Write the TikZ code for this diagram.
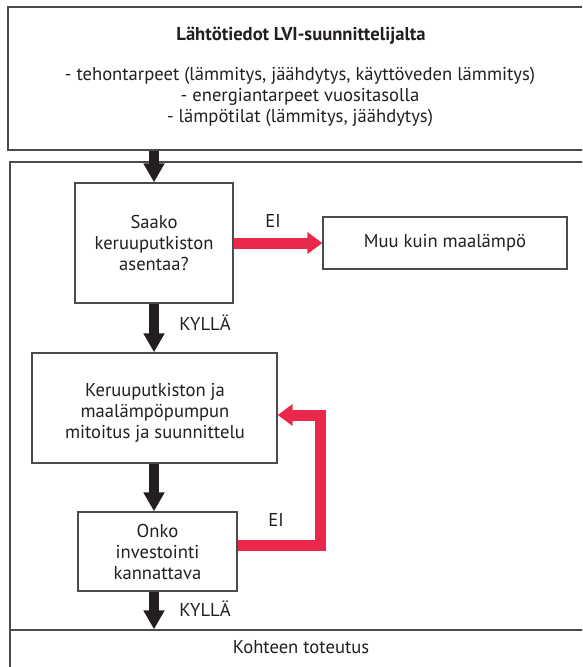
\documentclass[tikz,border=0pt]{standalone}
\usepackage{fontspec}
\setmainfont{PT Sans}
\usetikzlibrary{arrows.meta,calc}
\definecolor{ink}{RGB}{35,31,32}
\definecolor{edge}{RGB}{75,75,75}
\definecolor{redarrow}{RGB}{234,40,76}
\tikzset{
  box/.style={draw=edge, line width=1.3pt, rectangle, align=center, text=ink,
              font=\fontsize{18.6}{21}\selectfont, inner sep=0pt},
  lbl/.style={text=ink, font=\fontsize{18.6}{21}\selectfont, inner sep=0pt,
              text height=13pt, text depth=4pt},
  mlbl/.style={text=ink, font=\fontsize{18.6}{21}\selectfont, inner sep=0pt, align=center},
  blackarrow/.style={draw=ink, line width=10pt, -{Triangle[width=20pt,length=19pt]}},
  redarr/.style={draw=redarrow, line width=11pt, line join=miter,
                 -{Triangle[width=21pt,length=15pt]}}
}
\begin{document}
\begin{tikzpicture}[x=1pt,y=-1pt]
\useasboundingbox (0,0) rectangle (582,667);
\fill[white] (0,0) rectangle (582,667);
\clip (0,0) rectangle (582,667);

% top box
\node[box, minimum width=585pt, minimum height=143pt] (lahto) at (300.5,78.5) {};
\node[lbl, font=\fontsize{18.6}{21}\selectfont\bfseries] (title) at (301,36) {Lähtötiedot LVI-suunnittelijalta};
\node[lbl] (l1) at (300,76) {- tehontarpeet (lämmitys, jäähdytys, käyttöveden lämmitys)};
\node[lbl] (l2) at (300,97) {- energiantarpeet vuositasolla};
\node[lbl] (l3) at (300,118) {- lämpötilat (lämmitys, jäähdytys)};

% outer frame
\draw[draw=edge, line width=1.3pt] (10,162) rectangle (592,700);

% flow boxes
\node[box, minimum width=158pt, minimum height=120pt] (saako) at (154,243)
  {Saako\\keruuputkiston\\asentaa?};
\node[box, minimum width=244pt, minimum height=52pt] (muu) at (445,243)
  {Muu kuin maalämpö};
\node[box, minimum width=245pt, minimum height=110pt] (keruu) at (154.5,408) {};
\node[mlbl] (keruutext) at (155,413)
  {Keruuputkiston ja\\maalämpöpumpun\\mitoitus ja suunnittelu};
\node[box, minimum width=159pt, minimum height=79pt] (onko) at (157.5,551.5)
  {Onko\\investointi\\kannattava};
\node[box, minimum width=582pt, minimum height=70pt] (impl) at (301,665) {};
\node[lbl] (impltext) at (301,649) {Kohteen toteutus};

% black arrows
\draw[blackarrow] (lahto.south -| saako) -- (saako.north);
\draw[blackarrow] (saako.south) -- (saako.south |- keruu.north);
\draw[blackarrow] (keruu.south -| saako) -- (saako |- onko.north);
\draw[blackarrow] (saako |- onko.south) -- (saako |- impl.north);

% red arrows
\draw[redarr] (saako.east) -- (muu.west);
\coordinate (loopout) at ($(onko.east)+(0,-6)$);
\coordinate (loopin) at ($(keruu.east)+(0,7)$);
\draw[redarr] (loopout) -- ++(83,0) |- (loopin);

% labels
\node[lbl] (ei1) at (273,223) {EI};
\node[lbl] (ei2) at (276,522) {EI};
\node[lbl] (kylla1) at (205,326) {KYLLÄ};
\node[lbl] (kylla2) at (205,612) {KYLLÄ};
\end{tikzpicture}
\end{document}
